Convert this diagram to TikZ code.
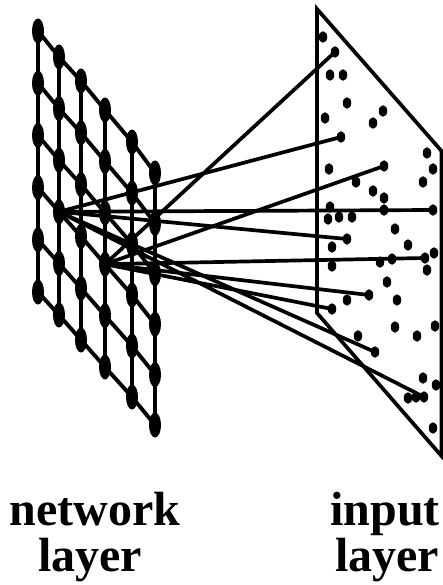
\documentclass[tikz,border=0pt]{standalone}
\usepackage{fontspec}
\setmainfont{Liberation Serif}
\usetikzlibrary{shapes.geometric}
\tikzset{
  gnode/.style={ellipse, fill=black, draw=none, inner sep=0pt,
    minimum width=12pt, minimum height=25pt},
  dot/.style={ellipse, fill=black, draw=none, inner sep=0pt,
    minimum width=8.5pt, minimum height=11.5pt},
  wire/.style={line width=3.7pt},
  gridline/.style={line width=3.9pt},
  plane/.style={line width=3.7pt, line join=miter},
  caption/.style={font=\bfseries\fontsize{48}{48}\selectfont, anchor=base, inner sep=0pt},
  topline/.style={caption, text depth=0pt},
  lowline/.style={caption, text height=0.6em}
}
\begin{document}
\begin{tikzpicture}[x=1pt, y=-1pt]
\useasboundingbox (0,0) rectangle (443,585);

% network layer: 6x6 lattice seen in perspective
\foreach \i/\x/\t/\b in {0/38/31/292, 1/59/57/315, 2/81/81/340,
                         3/105/110/367, 4/132/142/397, 5/155/173/425} {
  \foreach \j in {0,...,5} {
    \node[gnode] (g\i\j) at (\x, {\t+\j*(\b-\t)/5}) {};
  }
}
\foreach \i in {0,...,5}
  \draw[gridline] (g\i0.center) -- (g\i5.center);
\foreach \j in {0,...,5}
  \draw[gridline] (g0\j.center) -- (g1\j.center) -- (g2\j.center)
    -- (g3\j.center) -- (g4\j.center) -- (g5\j.center);

% input layer: slanted plane
\coordinate (pa) at (317,9);
\coordinate (pb) at (317,313);
\coordinate (pc) at (441.5,456);
\coordinate (pd) at (441.5,151);
\draw[plane] (pa) -- (pb) -- (pc) -- (pd) -- cycle;

% input points
\foreach \n/\x/\y in {
  1/323/37, 2/335/52, 3/330/75, 4/343/75, 5/347/103, 6/383/111,
  7/325/118, 8/373/123, 9/341/137, 10/427/153, 11/433/169, 12/329/169,
  13/384/166, 14/356/182, 15/423/182, 16/373/191, 17/384/198, 18/330/207,
  19/384/210, 20/433/210, 21/328/219, 22/339/217, 23/352/217, 24/395/229,
  25/347/239, 26/332/247, 27/408/245, 28/380/262, 29/392/259, 30/425/258,
  31/434/253, 32/427/270, 33/332/266, 34/387/282, 35/369/295, 36/347/300,
  37/397/300, 38/332/309, 39/395/327, 40/435/326, 41/358/336, 42/417/336,
  43/375/352, 44/423/378, 45/436/385, 46/408/398, 47/416/397, 48/424/397,
  49/433/428}
  \node[dot] (d\n) at (\x,\y) {};

% receptive connections of two network units
\foreach \d in {9, 20, 25, 43, 48}
  \draw[wire] (g13.center) -- (d\d.center);
\foreach \d in {2, 13, 30, 35, 38}
  \draw[wire] (g33.center) -- (d\d.center);

% captions
\node[topline] (net1) at (95,525) {network};
\node[lowline] (net2) at (90,571) {layer};
\node[topline] (inp1) at (385,525) {input};
\node[lowline] (inp2) at (387,571) {layer};
\end{tikzpicture}
\end{document}
